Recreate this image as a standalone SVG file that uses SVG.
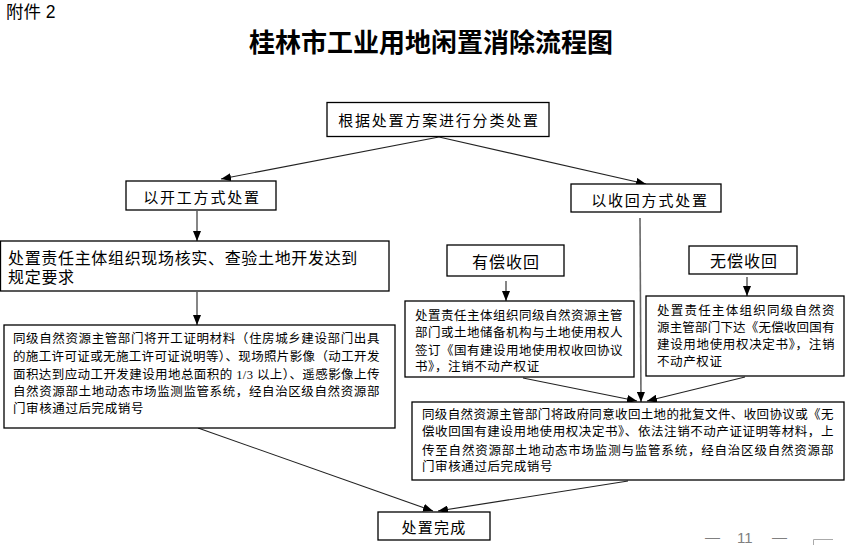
<svg xmlns="http://www.w3.org/2000/svg" width="848" height="545" viewBox="0 0 848 545">
<style>
.box{fill:#fff;stroke:#000;stroke-width:1.3}
.t{font-family:"Liberation Serif","Noto Sans CJK SC",serif;fill:#000}
.lg{font-size:15px;letter-spacing:1.8px;text-anchor:middle}
.md{font-size:16px;letter-spacing:0.7px}
.sm{font-size:12.5px;letter-spacing:0.6px}
.c{stroke:#222;stroke-width:1.1;fill:none;marker-end:url(#ah)}
.cg{stroke:#666;stroke-width:1.6;fill:none;marker-end:url(#ah)}
</style>
<defs>
<marker id="ah" markerUnits="userSpaceOnUse" markerWidth="10" markerHeight="8" refX="10" refY="4" orient="auto">
<path d="M0,0 L10,4 L0,8 z" fill="#000"/>
</marker>
</defs>
<rect width="848" height="545" fill="#fff"/>
<text x="6" y="18" font-family="Liberation Sans, Noto Sans CJK SC, sans-serif" font-size="17.5" fill="#000">附件 2</text>
<text class="t" x="431" y="52" font-size="26" font-weight="bold" text-anchor="middle">桂林市工业用地闲置消除流程图</text>

<g id="connectors">
<line class="c" x1="439" y1="137" x2="221" y2="179"/>
<line class="c" x1="439" y1="137" x2="646" y2="184"/>
<line class="c" x1="197" y1="211" x2="197" y2="241"/>
<line class="c" x1="197" y1="292" x2="197" y2="325"/>
<line class="c" x1="506" y1="281" x2="506" y2="301"/>
<line class="c" x1="747" y1="277" x2="747" y2="296"/>
<line class="cg" x1="640" y1="218" x2="641" y2="402"/>
<line class="c" x1="523" y1="378" x2="637" y2="401"/>
<line class="c" x1="745" y1="377" x2="647" y2="401"/>
<line class="c" x1="198" y1="428" x2="433" y2="511"/>
<line class="c" x1="628" y1="481" x2="438" y2="511"/>
</g>

<g id="n1">
<rect class="box" x="327" y="102.5" width="222" height="34"/>
<text class="t lg" x="439" y="126">根据处置方案进行分类处置</text>
</g>
<g id="n2">
<rect class="box" x="126" y="181" width="150" height="29"/>
<text class="t lg" x="202" y="203">以开工方式处置</text>
</g>
<g id="n3">
<rect class="box" x="571" y="184" width="150" height="28"/>
<text class="t lg" x="650" y="206">以收回方式处置</text>
</g>
<g id="n4">
<rect class="box" x="0.5" y="241" width="388.5" height="50"/>
<text class="t md" x="8" y="264" textLength="350" lengthAdjust="spacing">处置责任主体组织现场核实、查验土地开发达到</text>
<text class="t md" x="8" y="283">规定要求</text>
</g>
<g id="n5">
<rect class="box" x="4" y="325" width="391" height="103"/>
<text class="t sm" x="13" y="343" textLength="367" lengthAdjust="spacing">同级自然资源主管部门将开工证明材料（住房城乡建设部门出具</text>
<text class="t sm" x="13" y="361" textLength="367" lengthAdjust="spacing">的施工许可证或无施工许可证说明等）、现场照片影像（动工开发</text>
<text class="t sm" x="13" y="379" textLength="367" lengthAdjust="spacing">面积达到应动工开发建设用地总面积的 1/3 以上）、遥感影像上传</text>
<text class="t sm" x="13" y="396" textLength="367" lengthAdjust="spacing">自然资源部土地动态市场监测监管系统，经自治区级自然资源部</text>
<text class="t sm" x="13" y="413">门审核通过后完成销号</text>
</g>
<g id="n6">
<rect class="box" x="447" y="245" width="117" height="31"/>
<text class="t" x="506" y="268" font-size="16" letter-spacing="1" text-anchor="middle">有偿收回</text>
</g>
<g id="n7">
<rect class="box" x="689" y="246" width="108" height="28"/>
<text class="t" x="744" y="267" font-size="16" letter-spacing="1" text-anchor="middle">无偿收回</text>
</g>
<g id="n8">
<rect class="box" x="405" y="301" width="229" height="76"/>
<text class="t sm" x="415" y="320" textLength="208" lengthAdjust="spacing">处置责任主体组织同级自然资源主管</text>
<text class="t sm" x="415" y="337" textLength="208" lengthAdjust="spacing">部门或土地储备机构与土地使用权人</text>
<text class="t sm" x="415" y="355" textLength="208" lengthAdjust="spacing">签订《国有建设用地使用权收回协议</text>
<text class="t sm" x="415" y="371">书》，注销不动产权证</text>
</g>
<g id="n9">
<rect class="box" x="646" y="296" width="198" height="80"/>
<text class="t sm" x="657" y="315" textLength="178" lengthAdjust="spacing">处置责任主体组织同级自然资</text>
<text class="t sm" x="657" y="332" textLength="178" lengthAdjust="spacing">源主管部门下达《无偿收回国有</text>
<text class="t sm" x="657" y="349" textLength="178" lengthAdjust="spacing">建设用地使用权决定书》，注销</text>
<text class="t sm" x="657" y="366" letter-spacing="1.2">不动产权证</text>
</g>
<g id="n10">
<rect class="box" x="412" y="402" width="432" height="78"/>
<text class="t sm" x="422" y="419" textLength="412" lengthAdjust="spacing">同级自然资源主管部门将政府同意收回土地的批复文件、收回协议或《无</text>
<text class="t sm" x="422" y="436" textLength="412" lengthAdjust="spacing">偿收回国有建设用地使用权决定书》、依法注销不动产证证明等材料，上</text>
<text class="t sm" x="422" y="455" textLength="412" lengthAdjust="spacing">传至自然资源部土地动态市场监测与监管系统，经自治区级自然资源部</text>
<text class="t sm" x="422" y="471">门审核通过后完成销号</text>
</g>
<g id="n11">
<rect class="box" x="378" y="512" width="112" height="28"/>
<text class="t" x="434" y="533" font-size="15" letter-spacing="1.2" text-anchor="middle">处置完成</text>
</g>

<g id="footer">
<text x="705" y="542" font-family="Liberation Sans, sans-serif" font-size="15" fill="#808080">—</text>
<text x="737" y="543" font-family="Liberation Sans, sans-serif" font-size="15" fill="#808080">11</text>
<text x="772" y="542" font-family="Liberation Sans, sans-serif" font-size="15" fill="#808080">—</text>
<path d="M813.5,545 V539.5 H833" fill="none" stroke="#aaa" stroke-width="1"/>
</g>
</svg>
